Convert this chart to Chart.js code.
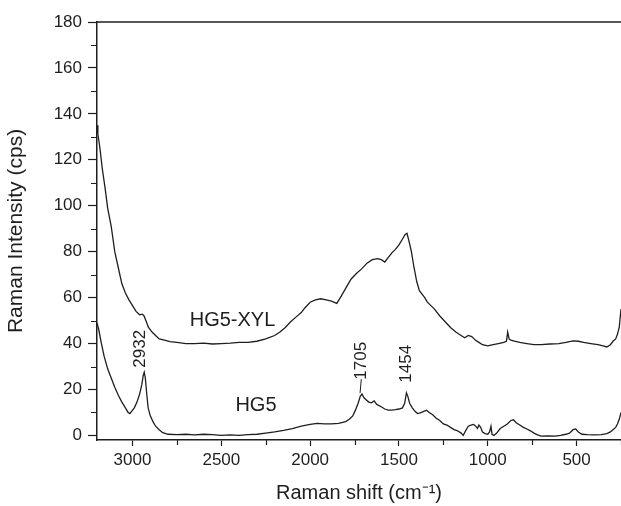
<!DOCTYPE html>
<html>
<head>
<meta charset="utf-8">
<script src="https://cdn.jsdelivr.net/npm/chart.js@4.4.0/dist/chart.umd.min.js"></script>
<style>
  html, body { margin: 0; padding: 0; background: #fff; }
  #wrap { width: 621px; height: 506px; position: relative; }
</style>
</head>
<body>
<div id="wrap"><canvas id="ramanChart"></canvas></div>
<script>
// HG5-XYL spectrum (upper curve)
const xylShift = [3200, 3195, 3185, 3170, 3155, 3140, 3120, 3100, 3080, 3060, 3040, 3020, 3000, 2980, 2960, 2945, 2935, 2925, 2910, 2890, 2870, 2850, 2820, 2790, 2750, 2700, 2650, 2600, 2550, 2500, 2450, 2400, 2350, 2300, 2250, 2200, 2170, 2140, 2110, 2080, 2050, 2030, 2000, 1970, 1940, 1910, 1880, 1850, 1830, 1800, 1770, 1740, 1710, 1680, 1650, 1620, 1600, 1580, 1560, 1540, 1520, 1500, 1480, 1465, 1455, 1445, 1430, 1415, 1400, 1385, 1370, 1355, 1340, 1320, 1300, 1270, 1240, 1210, 1180, 1150, 1130, 1110, 1090, 1070, 1050, 1030, 1000, 970, 940, 910, 895, 888, 880, 870, 850, 820, 780, 740, 700, 650, 600, 560, 520, 490, 460, 420, 380, 350, 330, 310, 295, 280, 270, 260, 250];
const xylIntensity = [135, 131, 126, 116, 108, 99, 91, 80, 73, 66, 62, 59, 56.5, 54, 52.5, 52.8, 52, 50, 47, 45, 43.5, 42, 41.5, 40.8, 40.5, 40, 40, 40.2, 39.8, 40, 40.2, 40.5, 40.5, 41, 42, 43.5, 45, 47, 49.5, 51.5, 53.5, 55.5, 58, 59, 59.5, 59, 58.5, 57.5, 60, 64, 68, 70.5, 72.5, 75, 76.5, 77, 76.5, 75.5, 77.5, 79.5, 81, 83, 85.5, 87.5, 88, 85, 80, 73, 67, 63, 61.5, 60, 58, 56.5, 55, 52, 49.5, 47, 45, 43.5, 42.5, 43.5, 43, 41.5, 40.5, 39.5, 39, 39.5, 40, 40.5, 41, 45, 42, 41.5, 41, 40.5, 40, 39.5, 39.5, 39.8, 40, 40.5, 41.2, 41, 40.5, 40, 39.5, 39, 38.5, 39.5, 41, 42, 44, 47, 55];

// HG5 spectrum (lower curve)
const hg5Shift = [3200, 3190, 3175, 3160, 3140, 3120, 3100, 3080, 3060, 3040, 3025, 3015, 3005, 2990, 2975, 2960, 2948, 2940, 2934, 2928, 2920, 2912, 2900, 2885, 2870, 2850, 2830, 2800, 2750, 2700, 2650, 2600, 2550, 2500, 2450, 2400, 2350, 2300, 2250, 2200, 2150, 2100, 2050, 2000, 1960, 1920, 1880, 1840, 1800, 1780, 1760, 1745, 1730, 1718, 1708, 1698, 1685, 1670, 1655, 1640, 1625, 1600, 1580, 1560, 1540, 1520, 1500, 1480, 1468, 1458, 1450, 1440, 1425, 1410, 1395, 1380, 1360, 1345, 1330, 1310, 1290, 1270, 1250, 1230, 1210, 1190, 1170, 1150, 1138, 1125, 1110, 1095, 1080, 1068, 1058, 1050, 1040, 1030, 1015, 1000, 990, 982, 976, 965, 950, 930, 910, 890, 870, 855, 840, 820, 800, 780, 760, 740, 720, 700, 660, 620, 590, 560, 540, 520, 505, 490, 470, 440, 400, 360, 330, 310, 295, 280, 270, 260, 250];
const hg5Intensity = [49, 46, 40, 34.5, 29, 25, 21, 17.5, 14.5, 12, 10, 9.5, 10.5, 12, 14.5, 18, 22, 26, 27.5, 25, 18, 12, 8.5, 6, 4, 2.5, 1.2, 0.5, 0.3, 0.5, 0.2, 0.5, 0.3, 0, 0.2, 0, 0.3, 0.5, 1, 1.5, 2.2, 3, 4, 4.8, 5.2, 5, 5, 5.2, 6, 7, 8.5, 11, 14, 17, 18, 16.5, 15.5, 14.5, 14.2, 15, 13.5, 12.5, 11.5, 11, 11, 11.2, 11.5, 12, 14, 18.5, 17, 14, 12, 10.5, 9.5, 9.8, 10.5, 11, 10, 9, 7.5, 6.5, 5, 4.5, 3.5, 2.5, 2, 1, 0, 2, 4, 4.5, 4.8, 4, 3, 4.5, 3.5, 1.5, 0.8, 0.5, 1.5, 4, 0.5, 0, 1, 3, 4, 5, 6.5, 6.8, 5.5, 4.5, 3.5, 2.8, 2, 1, 0.2, -0.3, -0.2, -0.3, 0, 0.5, 1, 2.5, 2.8, 1.5, 0.5, 0.3, 0.2, 0.3, 0.8, 1.5, 2.5, 3.5, 5, 7, 10];

const xTicks = [3000, 2500, 2000, 1500, 1000, 500];
const xMinorTicks = [2750, 2250, 1750, 1250, 750, 250];
const yTicks = [0, 20, 40, 60, 80, 100, 120, 140, 160, 180];
const yMinorTicks = [10, 30, 50, 70, 90, 110, 130, 150, 170];

const seriesNames = ["HG5-XYL", "HG5"];
const seriesNamePos = [[2437, 49.9], [2305, 13.2]];
const peakNames = ["2932", "1705", "1454"];
const peakNamePos = [[2958, 37.7], [1710, 32.5], [1456, 31.2]];
const leaderLine = [[1712, 24.5], [1719, 18.5]];

const ink = "#1e1e1e";
const fontFamily = 'Arial, "Liberation Sans", sans-serif';

const extras = {
  id: "extras",
  afterDraw(chart) {
    const { ctx, chartArea, scales } = chart;
    const sx = scales.x, sy = scales.y;
    ctx.save();
    ctx.strokeStyle = ink;
    ctx.lineWidth = 1.5;
    // top frame line
    ctx.beginPath();
    ctx.moveTo(chartArea.left, chartArea.top);
    ctx.lineTo(chartArea.right, chartArea.top);
    ctx.stroke();
    // minor ticks
    ctx.lineWidth = 1.2;
    ctx.beginPath();
    yMinorTicks.forEach(v => {
      const p = Math.round(sy.getPixelForValue(v)) + 0.5;
      ctx.moveTo(chartArea.left, p);
      ctx.lineTo(chartArea.left - 6, p);
    });
    xMinorTicks.forEach(v => {
      const p = Math.round(sx.getPixelForValue(v)) + 0.5;
      ctx.moveTo(p, chartArea.bottom);
      ctx.lineTo(p, chartArea.bottom + 5);
    });
    ctx.stroke();

    // curve names
    ctx.fillStyle = ink;
    ctx.textAlign = "center";
    ctx.textBaseline = "middle";
    ctx.font = "20px " + fontFamily;
    seriesNames.forEach((t, i) => {
      ctx.fillText(t, sx.getPixelForValue(seriesNamePos[i][0]), sy.getPixelForValue(seriesNamePos[i][1]));
    });
    // peak positions, rotated
    ctx.font = "17px " + fontFamily;
    peakNames.forEach((t, i) => {
      ctx.save();
      ctx.translate(sx.getPixelForValue(peakNamePos[i][0]), sy.getPixelForValue(peakNamePos[i][1]));
      ctx.rotate(-Math.PI / 2);
      ctx.fillText(t, 0, 0);
      ctx.restore();
    });
    ctx.lineWidth = 1;
    ctx.beginPath();
    ctx.moveTo(sx.getPixelForValue(leaderLine[0][0]), sy.getPixelForValue(leaderLine[0][1]));
    ctx.lineTo(sx.getPixelForValue(leaderLine[1][0]), sy.getPixelForValue(leaderLine[1][1]));
    ctx.stroke();
    ctx.restore();
  }
};

const toPoints = (xs, ys) => xs.map((x, i) => ({ x: x, y: ys[i] }));

new Chart(document.getElementById("ramanChart"), {
  type: "line",
  data: {
    datasets: [
      {
        label: seriesNames[0],
        data: toPoints(xylShift, xylIntensity),
        borderColor: ink,
        borderWidth: 1.3,
        pointRadius: 0,
        tension: 0,
        fill: false
      },
      {
        label: seriesNames[1],
        data: toPoints(hg5Shift, hg5Intensity),
        borderColor: ink,
        borderWidth: 1.3,
        pointRadius: 0,
        tension: 0,
        fill: false
      }
    ]
  },
  options: {
    responsive: true,
    maintainAspectRatio: false,
    animation: false,
    layout: { padding: { top: 22, right: 0, left: 0, bottom: 0 } },
    plugins: {
      legend: { display: false },
      tooltip: { enabled: false }
    },
    scales: {
      x: {
        type: "linear",
        reverse: true,
        min: 250,
        max: 3200,
        afterBuildTicks: (axis) => { axis.ticks = xTicks.map(v => ({ value: v })); },
        afterFit: (axis) => { axis.height = 66; },
        border: { display: true, color: ink, width: 1.5 },
        grid: { drawOnChartArea: false, tickLength: 6, color: ink, tickWidth: 1.2 },
        ticks: {
          color: ink,
          font: { size: 17, family: fontFamily },
          padding: 4,
          maxRotation: 0,
          callback: (v) => String(v)
        },
        title: {
          display: true,
          text: "Raman shift (cm\u207B\u00B9)",
          color: ink,
          font: { size: 20, family: fontFamily },
          padding: { top: 0, bottom: 1 }
        }
      },
      y: {
        type: "linear",
        min: -2,
        max: 180,
        afterBuildTicks: (axis) => { axis.ticks = yTicks.map(v => ({ value: v })); },
        afterFit: (axis) => { axis.width = 97; },
        border: { display: true, color: ink, width: 1.5 },
        grid: { drawOnChartArea: false, tickLength: 9, color: ink, tickWidth: 1.2 },
        ticks: {
          color: ink,
          font: { size: 17, family: fontFamily },
          padding: 6,
          callback: (v) => String(v)
        },
        title: {
          display: true,
          text: "Raman Intensity (cps)",
          color: ink,
          font: { size: 21, family: fontFamily },
          padding: { top: 4, bottom: 0 }
        }
      }
    }
  },
  plugins: [extras]
});
</script>
</body>
</html>
